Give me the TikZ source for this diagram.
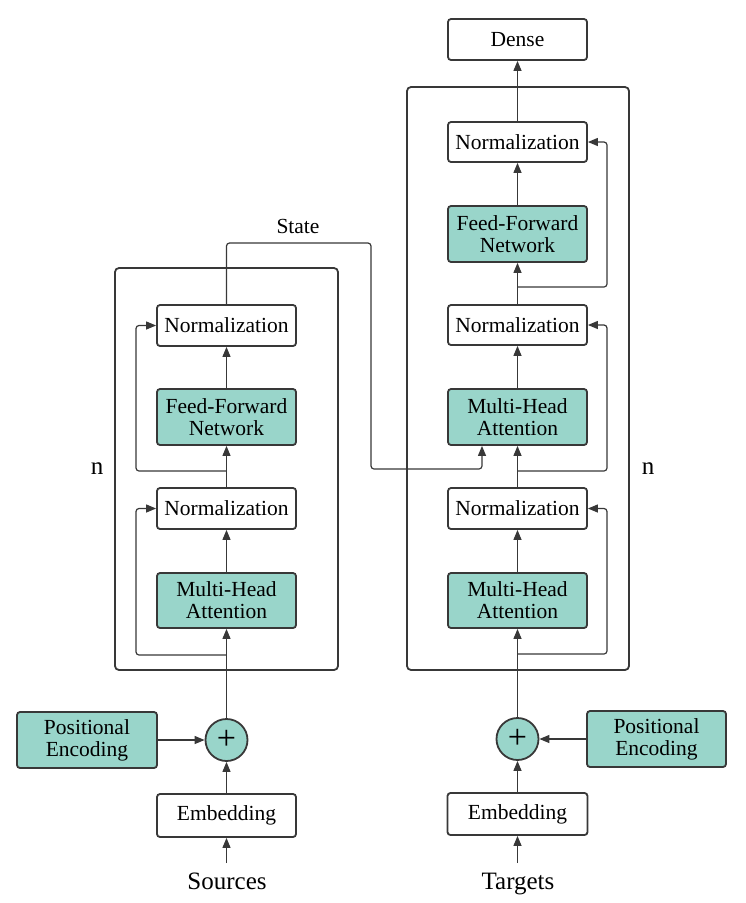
\documentclass[tikz,border=0pt]{standalone}
\usepackage{fontspec}
\setmainfont{Liberation Serif}
\usetikzlibrary{arrows.meta,calc}
\definecolor{teal1}{HTML}{99D5CA}
\definecolor{ink}{HTML}{383838}
\tikzset{
  box/.style={draw=ink, line width=1.8pt, rounded corners=3pt, minimum width=139pt, align=center, inner sep=0pt, font=\fontsize{21.5}{22}\selectfont, fill=white},
  greenbox/.style={box, fill=teal1},
  plusnode/.style={draw=ink, line width=1.8pt, circle, fill=teal1, minimum size=42pt, inner sep=0pt, font=\fontsize{34}{34}\selectfont},
  outer/.style={draw=ink, line width=1.8pt, rounded corners=4pt},
  conn/.style={draw=ink, line width=1.2pt, rounded corners=3pt},
  arr/.style={conn, -{Triangle[length=10pt,width=8pt]}},
  lbl/.style={font=\fontsize{21.5}{22}\selectfont, inner sep=0pt},
  nlbl/.style={font=\fontsize{25}{26}\selectfont, inner sep=0pt},
  biglbl/.style={font=\fontsize{25}{26}\selectfont, inner sep=0pt, anchor=base}
}
\begin{document}
\begin{tikzpicture}[x=1pt,y=-1pt]
\useasboundingbox (0,0) rectangle (745,903);
% outer boxes
\draw[outer] (115,268) rectangle (338,670);
\draw[outer] (407,87) rectangle (629,670);
% encoder nodes
\node[box, minimum height=41pt] (eN2) at (226.5,325.5) {Normalization};
\node[greenbox, minimum height=56pt] (eFF) at (226.5,417) {Feed-Forward\\Network};
\node[box, minimum height=41pt] (eN1) at (226.5,508.5) {Normalization};
\node[greenbox, minimum height=55pt] (eMH) at (226.5,600.5) {Multi-Head\\Attention};
\node[plusnode] (eP) at (226.5,740) {+};
\node[greenbox, minimum width=140pt, minimum height=56pt] (ePE) at (87,740) {Positional\\Encoding};
\node[box, minimum height=43pt] (eE) at (226.5,815.5) {Embedding};
\node[biglbl] (src) at (227,889) {Sources};
\coordinate (srcT) at (226.5,863);
% decoder nodes
\node[box, minimum height=41pt] (dD) at (517.5,39.5) {Dense};
\node[box, minimum height=40pt] (dN3) at (517.5,142) {Normalization};
\node[greenbox, minimum height=56pt] (dFF) at (517.5,234) {Feed-Forward\\Network};
\node[box, minimum height=40pt] (dN2) at (517.5,325) {Normalization};
\node[greenbox, minimum height=56pt] (dM2) at (517.5,417) {Multi-Head\\Attention};
\node[box, minimum height=41pt] (dN1) at (517.5,508.5) {Normalization};
\node[greenbox, minimum height=55pt] (dM1) at (517.5,600.5) {Multi-Head\\Attention};
\node[plusnode] (dP) at (517.5,739) {+};
\node[greenbox, minimum height=56pt] (dPE) at (656.5,739) {Positional\\Encoding};
\node[box, minimum width=140pt, minimum height=42pt] (dE) at (517.5,814) {Embedding};
\node[biglbl] (tgt) at (518,889) {Targets};
\coordinate (tgtT) at (517.5,863);
% labels
\node[lbl] (state) at (298,226) {State};
\node[nlbl] (nl) at (97,469) {n};
\node[nlbl] (nr) at (648,469) {n};
% encoder connectors
\draw[arr] (srcT) -- (eE.south);
\draw[arr] (eE.north) -- (eP.south);
\draw[arr] (ePE.east) -- (eP.west);
\draw[arr] (eP.north) -- (eMH.south);
\draw[arr] (eMH.north) -- (eN1.south);
\draw[arr] (eN1.north) -- (eFF.south);
\draw[arr] (eFF.north) -- (eN2.south);
\coordinate (eR1) at (226.5,655);
\coordinate (eR2) at (226.5,471);
\coordinate (eL) at (136,0);
\draw[arr] (eR1) -- (eR1 -| eL) |- (eN1.west);
\draw[arr] (eR2) -- (eR2 -| eL) |- (eN2.west);
% state connector
\coordinate (sTop) at (371,243);
\coordinate (sBot) at (482,469);
\draw[arr] (eN2.north) |- (sTop) |- (sBot) -- (dM2.south -| sBot);
% decoder connectors
\draw[arr] (tgtT) -- (dE.south);
\draw[arr] (dE.north) -- (dP.south);
\draw[arr] (dPE.west) -- (dP.east);
\draw[arr] (dP.north) -- (dM1.south);
\draw[arr] (dM1.north) -- (dN1.south);
\draw[arr] (dN1.north) -- (dM2.south);
\draw[arr] (dM2.north) -- (dN2.south);
\draw[arr] (dN2.north) -- (dFF.south);
\draw[arr] (dFF.north) -- (dN3.south);
\draw[arr] (dN3.north) -- (dD.south);
\coordinate (dR1) at (517.5,654);
\coordinate (dR2) at (517.5,471);
\coordinate (dR3) at (517.5,287);
\coordinate (dRx) at (607,0);
\draw[arr] (dR1) -- (dR1 -| dRx) |- (dN1.east);
\draw[arr] (dR2) -- (dR2 -| dRx) |- (dN2.east);
\draw[arr] (dR3) -- (dR3 -| dRx) |- (dN3.east);
\end{tikzpicture}
\end{document}
